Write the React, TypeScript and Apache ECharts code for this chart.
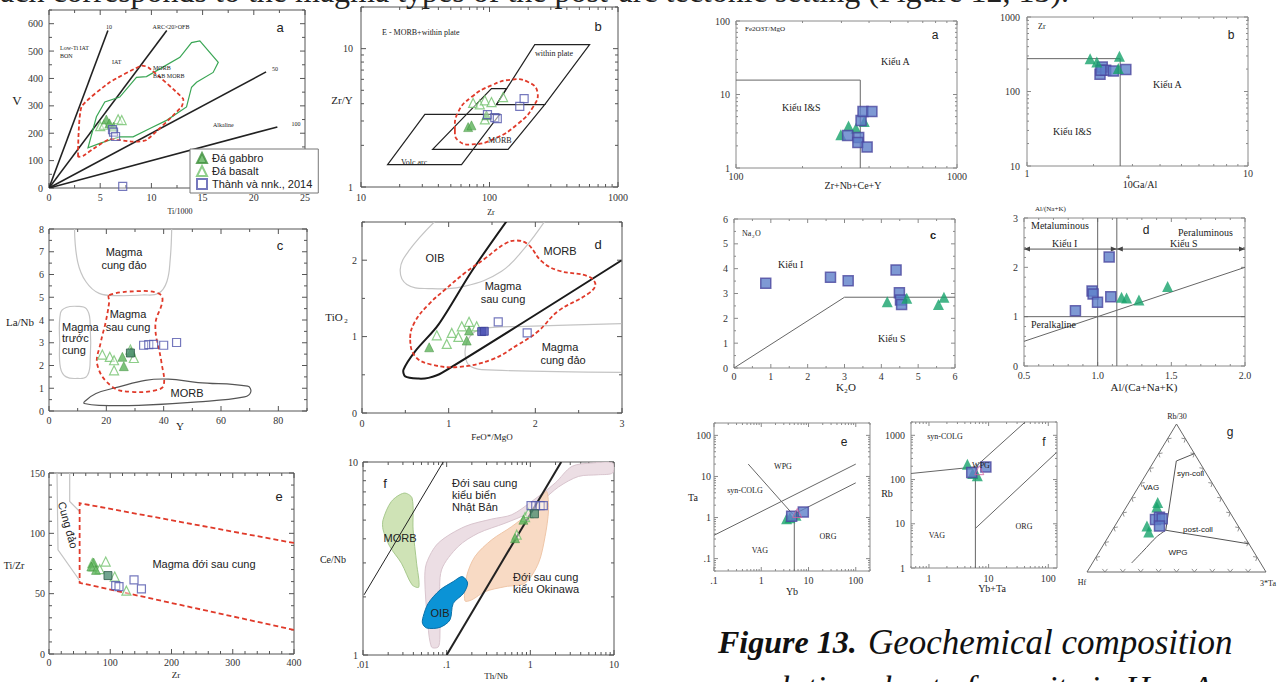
import React, { useEffect, useRef } from "react";
import * as echarts from "echarts";

const SERIF = "'Liberation Serif','Times New Roman',serif";
const SANS = "'Liberation Sans',Arial,Helvetica,sans-serif";

/* ================= DATA ================= */
// Left (a) V vs Ti/1000
const LA_GABBRO = [[5.6, 250], [5.9, 236], [6.3, 224]];
const LA_BASALT = [[5.0, 226], [5.35, 231], [6.75, 251], [7.1, 248]];
const LA_THANH = [[6.2, 213], [6.3, 204], [6.5, 188], [7.2, 6]];
const LA_RATIO_10 = [[0, 0], [5.75, 575]];
const LA_RATIO_20 = [[0, 0], [11.5, 575]];
const LA_RATIO_50 = [[0, 0], [21.2, 424]];
const LA_RATIO_100 = [[0, 0], [22.3, 223]];
const LA_FIELD_GREEN = [[3.81, 147], [4.63, 260], [5.45, 314], [6.91, 332], [8.54, 404], [9.52, 407], [10.82, 435], [12.78, 477], [13.92, 531], [14.73, 537], [16.53, 459], [16.03, 422], [14.41, 386], [13.92, 368], [13.43, 296], [11.48, 247], [9.85, 217], [8.21, 187], [6.91, 187], [4.96, 163]];
const LA_FIELD_RED = [[2.84, 115], [3.17, 296], [5.93, 386], [9.03, 447], [9.68, 441], [13.1, 326], [12.94, 296], [9.52, 175], [8.21, 169], [5.93, 178], [4.63, 151], [3.32, 117]];

// Left (b) Zr/Y vs Zr
const LB_GABBRO = [[68.2, 2.71], [72.4, 2.79], [94.7, 3.3]];
const LB_BASALT = [[74.6, 4.05], [84, 3.96], [92, 4.23], [103.6, 4.11], [127.6, 4.47], [92, 3.08]];
const LB_THANH = [[96.4, 3.34], [110, 3.17], [115, 3.12], [172, 3.83], [186, 4.35]];
const LB_VOLC_ARC = [[16.1, 1.45], [60.6, 1.45], [120, 3.35], [31.4, 3.35]];
const LB_MORB = [[36.1, 1.87], [139.5, 1.87], [269, 3.94], [113.3, 3.94], [135.5, 5.14], [103.6, 5.14]];
const LB_WITHIN_PLATE = [[113.3, 3.94], [225, 10.7], [601, 10.7], [269, 3.94]];
const LB_FIELD_RED = [[53.8, 2.57], [57, 3.48], [72.4, 4.47], [103.6, 5.43], [148, 5.97], [199.6, 5.74], [236, 4.86], [218, 3.78], [167, 2.87], [110, 2.24], [72.4, 2.03], [57, 2.17]];

// Left (c) La/Nb vs Y
const LC_GABBRO = [[25.6, 2.38], [26.1, 1.97], [28.6, 2.6]];
const LC_BASALT = [[18.6, 2.48], [21.2, 2.38], [22.7, 2.23], [22.7, 1.79], [29.6, 2.33], [28.4, 2.7]];
const LC_THANH = [[33.0, 2.89], [34.8, 2.92], [36.5, 2.93], [40.0, 2.89], [44.5, 3.01]];
const LC_THANH_DARK = [[28.4, 2.55]];
const LC_FIELD_ARC = [[8.9, 8], [10, 6.56], [12.9, 5.68], [17.5, 5.17], [24.4, 5.07], [32.5, 5.1], [38.2, 5.17], [41.1, 5.68], [42.3, 6.7], [42.8, 8]];
const LC_FIELD_FOREARC = [[4, 4.3], [6, 4.55], [10, 4.6], [13, 4.5], [14.3, 4.0], [14.3, 2.0], [13, 1.5], [10, 1.43], [6, 1.5], [4, 1.9], [3.7, 3.0]];
const LC_FIELD_RED = [[21.0, 5.09], [31.3, 5.27], [38.2, 5.17], [39.6, 4.87], [37.1, 3.77], [39.2, 2.16], [40.0, 1.13], [37.1, 0.91], [29.0, 0.84], [22.1, 1.06], [16.9, 2.01], [18.1, 3.04], [19.8, 3.92], [21.0, 4.8]];
const LC_FIELD_MORB = [[12.3, 0.4], [16.4, 0.77], [24.4, 1.06], [33.6, 1.35], [41.7, 1.4], [52.0, 1.25], [69.3, 1.09], [70.4, 0.84], [68.2, 0.62], [52.0, 0.4], [31.3, 0.25], [17.5, 0.25], [12.3, 0.33]];

// Left (d) TiO2 vs FeO*/MgO
const LD_GABBRO = [[0.775, 0.86], [1.208, 0.948], [1.235, 1.079]];
const LD_BASALT = [[0.863, 1.017], [0.978, 0.904], [1.036, 1.048], [1.112, 0.996], [1.151, 1.135], [1.235, 1.193], [1.323, 1.135]];
const LD_THANH = [[1.572, 1.193], [1.906, 1.048]];
const LD_THANH_FILLED = [[1.381, 1.066], [1.411, 1.07]];
const LD_BOUNDARY = [[1.668, 2.51], [1.266, 1.856], [0.882, 1.157], [0.613, 0.807], [0.479, 0.567], [0.498, 0.48], [0.651, 0.45], [0.767, 0.46], [0.921, 0.524], [2.992, 1.996]];
const LD_FIELD_OIB = [[0.843, 2.51], [0.537, 2.118], [0.441, 1.878], [0.518, 1.681], [0.767, 1.629], [1.189, 1.66], [1.611, 1.856], [1.879, 2.162], [2.109, 2.51]];
const LD_FIELD_ARC = [[2.992, 1.17], [1.879, 1.135], [1.381, 1.105], [1.246, 1.004], [1.189, 0.807], [1.227, 0.633], [1.381, 0.567], [2.992, 0.532]];
const LD_FIELD_RED = [[0.556, 0.983], [0.613, 1.2], [0.767, 1.419], [0.959, 1.616], [1.189, 1.835], [1.419, 2.022], [1.649, 2.215], [1.784, 2.258], [1.917, 2.206], [2.071, 1.987], [2.262, 1.865], [2.608, 1.79], [2.693, 1.681], [2.608, 1.56], [2.262, 1.332], [2.032, 1.07], [1.802, 0.895], [1.496, 0.699], [1.112, 0.603], [0.806, 0.633], [0.613, 0.742]];

// Left (e) Ti/Zr vs Zr
const LE_GABBRO = [[72.9, 75.8], [69.1, 72.5], [76.7, 69.7]];
const LE_BASALT = [[70.8, 75.3], [72.9, 72.5], [82.8, 70.3], [92.6, 76.6], [107.3, 64.2], [126.4, 52.5]];
const LE_THANH = [[108.9, 56.7], [114.3, 55.9], [138.8, 61.4], [150.9, 54]];
const LE_THANH_DARK = [[96.3, 65]];
const LE_FIELD_RED = [[400, 92], [50, 125], [50, 59], [400, 20]];
const LE_ARC_1 = [[13.1, 150], [14.7, 86.3], [50, 60.9]];
const LE_ARC_2 = [[33.8, 150], [33.8, 126.4], [50, 118.1]];

// Left (f) Ce/Nb vs Th/Nb
const LF_GABBRO = [[0.657, 4.03], [0.826, 5.02]];
const LF_BASALT = [[0.688, 4.2], [0.865, 5.18], [0.948, 5.44]];
const LF_THANH = [[1.02, 5.94], [1.16, 5.94], [1.31, 5.94], [1.43, 5.94]];
const LF_THANH_DARK = [[1.12, 5.39]];
const LF_LINE_A = [[0.0103, 2.05], [0.0909, 10]];
const LF_LINE_B = [[0.1, 1], [2.34, 10]];
const LF_FIELD_MORB = [[0.01738, 5.02], [0.02188, 6.25], [0.03098, 6.9], [0.0386, 6.5], [0.0397, 4.45], [0.0437, 2.99], [0.0465, 2.25], [0.0386, 2.31], [0.0288, 2.99], [0.0209, 3.65], [0.0174, 4.45]];
const LF_FIELD_OIB = [[0.0524, 1.58], [0.0601, 1.85], [0.083, 2.17], [0.1197, 2.4], [0.1535, 2.55], [0.178, 2.36], [0.1596, 2.09], [0.1197, 1.85], [0.1094, 1.52], [0.083, 1.39], [0.0576, 1.38], [0.0514, 1.46]];
const LF_FIELD_JAPAN = [[0.0659, 1.1], [0.059, 1.52], [0.0548, 2.45], [0.0574, 2.99], [0.0793, 3.8], [0.165, 4.63], [0.345, 5.06], [0.6, 5.33], [1.04, 6.25], [1.98, 7.78], [3.14, 9.49], [5.45, 9.88], [9.62, 9.88], [9.62, 8.77], [6.54, 8.59], [3.77, 8.42], [2.17, 7.42], [1.37, 6.25], [0.948, 5.44], [0.499, 4.82], [0.239, 4.28], [0.1375, 3.65], [0.0868, 2.76], [0.083, 1.85], [0.083, 1.24], [0.0793, 1.1]];
const LF_FIELD_OKINAWA = [[0.165, 1.91], [0.173, 2.55], [0.218, 3.24], [0.345, 3.95], [0.6, 4.63], [0.948, 5.44], [1.37, 6.63], [1.57, 7.04], [1.65, 5.65], [1.5, 4.11], [1.25, 2.99], [0.865, 2.36], [0.499, 2.26], [0.287, 2.13], [0.199, 1.93]];

// Right (a) Fe2O3T/MgO vs Zr+Nb+Ce+Y
const RA_TRI = [[298, 2.83], [323, 3.74], [349, 3.48], [380.6, 4.28]];
const RA_SQ = [[320, 2.77], [359, 2.6], [356, 2.22], [392, 1.93], [368, 4.42], [375.6, 5.85], [412, 5.85]];
const RA_BOUNDARY = [[100, 15.7], [365, 15.7], [365, 1]];
// Right (b) Zr vs 10^4Ga/Al
const RB_TRI = [[1.93, 276], [2.07, 249], [2.62, 297], [2.59, 203]];
const RB_SQ = [[2.14, 170], [2.19, 213], [2.27, 193], [2.46, 188], [2.8, 197], [2.16, 193]];
const RB_BOUNDARY = [[1, 276], [2.64, 276], [2.64, 10]];
// Right (c) Na2O vs K2O
const RC_SQ = [[0.862, 3.41], [2.62, 3.65], [3.1, 3.51], [4.4, 3.95], [4.49, 3.03], [4.52, 2.74], [4.55, 2.56]];
const RC_TRI = [[4.16, 2.67], [4.69, 2.81], [5.55, 2.56], [5.7, 2.85]];
const RC_BOUNDARY = [[0, 0], [3, 2.85], [6, 2.85]];
// Right (d) A/NK vs A/CNK
const RD_SQ = [[0.849, 1.12], [0.962, 1.52], [0.969, 1.46], [0.999, 1.29], [1.078, 2.21], [1.089, 1.405]];
const RD_TRI = [[1.162, 1.393], [1.196, 1.379], [1.28, 1.338], [1.475, 1.609]];
const RD_V1 = [[1.0, 0], [1.0, 3]];
const RD_V2 = [[1.13, 0], [1.13, 3]];
const RD_H1 = [[0.5, 1], [2.0, 1]];
const RD_DIAG = [[0.5, 0.5], [2.0, 2.0]];
const RD_ARROW_I = [[0.5, 2.37], [1.13, 2.37]];
const RD_ARROW_S = [[1.13, 2.37], [2.0, 2.37]];
// Right (e) Ta vs Yb
const RE_TRI = [[3.44, 0.94], [4.05, 0.99], [5.43, 1.13]];
const RE_SQ = [[4.4, 1.07], [7.76, 1.36]];
const RE_PINK = [[5.78, 1.29]];
const RE_L1 = [[0.1, 0.37], [100, 20]];
const RE_L2 = [[5, 1.22], [100, 7]];
const RE_L3 = [[0.53, 20], [4.6, 1.22]];
const RE_V = [[5, 1.22], [5, 0.05]];
// Right (f) Rb vs Yb+Ta
const RF_TRI = [[4.41, 222], [5.41, 137], [6.46, 122]];
const RF_SQ = [[5.21, 144], [8.99, 193]];
const RF_PINK = [[6.97, 163]];
const RF_L1 = [[0.5, 137], [6, 193]];
const RF_V = [[6, 193], [6, 1]];
const RF_L2 = [[6, 193], [41, 2000]];
const RF_L3 = [[6, 7.85], [136, 403]];
// Right (g) ternary Hf - Rb/30 - 3*Ta (percent)
const RG_TRI = [[37, 47, 16], [39, 44, 17], [51, 31, 18], [52, 27, 21]];
const RG_SQ = [[44, 35.5, 20.5], [41, 37, 22], [40, 36, 24], [44, 31, 25]];
const RG_BOUND_1 = [[0, 80, 20], [12.6, 75, 12.4], [41.9, 28.2, 29.9], [0, 19, 81]];
const RG_BOUND_2 = [[41.9, 28.2, 29.9], [49.3, 23.7, 27], [61.5, 14.2, 24.3], [72, 6.1, 21.9]];
const RG_CORNERS = [[100, 0, 0], [0, 0, 100], [0, 100, 0]];

const LEGEND_NAMES = ["Đá gabbro", "Đá basalt", "Thành và nnk., 2014"];

/* ================= LAYOUT ================= */
type Ax = { log: boolean; min: number; max: number; step?: number; minor?: number; margin: number; fmt?: (v: number) => string };
const lin = (min: number, max: number, step: number, minor: number, margin: number, fmt?: (v: number) => string): Ax => ({ log: false, min, max, step, minor, margin, fmt });
const lg = (min: number, max: number, margin: number): Ax => ({ log: true, min, max, margin });

const PANELS: any[] = [
  { l: 49, t: 10, w: 256, h: 178, x: lin(0, 25, 5, 2.5, 4), y: lin(0, 650, 100, 50, 6), dark: true },
  { l: 361, t: 7, w: 257, h: 180, x: lg(10, 1000, 5), y: lg(1, 20, 8), dark: true },
  { l: 49, t: 229, w: 258, h: 182, x: lin(0, 90, 20, 10, 4), y: lin(0, 8, 1, 0.5, 5), dark: true },
  { l: 362, t: 222, w: 260, h: 191, x: lin(0, 3, 1, 0.5, 5), y: lin(0, 2.5, 1, 0.5, 5), dark: true },
  { l: 49, t: 473, w: 245, h: 181, x: lin(0, 400, 100, 20, 3), y: lin(0, 150, 50, 10, 4), dark: true },
  { l: 363, t: 462, w: 251, h: 193, x: lg(0.01, 10, 4), y: lg(1, 10, 5), dark: true },
  { l: 736, t: 21, w: 221, h: 147, x: lg(100, 1000, 3), y: lg(1, 100, 6) },
  { l: 1027, t: 17, w: 221, h: 149, x: lg(1, 10, 2), y: lg(10, 1000, 7) },
  { l: 734, t: 219, w: 221, h: 149, x: lin(0, 6, 1, 0.5, 3), y: lin(0, 6, 1, 0.5, 6) },
  { l: 1024, t: 218, w: 221, h: 148, x: lin(0.5, 2, 0.5, 0.1, 4, (v) => v.toFixed(1)), y: lin(0, 3, 1, 0.2, 6) },
  { l: 714, t: 423, w: 156, h: 148, x: lg(0.1, 200, 4), y: lg(0.05, 200, 3) },
  { l: 911, t: 422, w: 146, h: 146, x: lg(0.5, 140, 5), y: lg(1, 2000, 6) },
];
const TERN = 12;

const isMult = (v: number, s: number) => Math.abs(v / s - Math.round(v / s)) < 1e-6;
const refOf = (a: Ax) => (a.log ? Math.sqrt(a.min * a.max) : (a.min + a.max) / 2);

function tickList(a: Ax, majLen: number, minLen: number) {
  const out: number[][] = [];
  if (a.log) {
    const e0 = Math.floor(Math.log10(a.min)), e1 = Math.ceil(Math.log10(a.max));
    for (let e = e0; e <= e1; e++) {
      for (let k = 1; k <= 9; k++) {
        const v = k * Math.pow(10, e);
        if (v < a.min * (1 - 1e-9) || v > a.max * (1 + 1e-9)) continue;
        out.push([v, k === 1 ? majLen : minLen]);
      }
    }
  } else {
    const s = a.minor as number;
    const n0 = Math.ceil(a.min / s - 1e-9), n1 = Math.floor(a.max / s + 1e-9);
    for (let n = n0; n <= n1; n++) {
      const v = n * s;
      out.push([v, isMult(v, a.step as number) ? majLen : minLen]);
    }
  }
  return out;
}

function labelFmt(a: Ax) {
  if (a.log) {
    return (v: number) => {
      const l = Math.log10(v);
      const e = Math.round(l);
      if (Math.abs(l - e) > 1e-6) return "";
      return e >= 0 ? String(Math.round(Math.pow(10, e))) : "." + "0".repeat(-e - 1) + "1";
    };
  }
  return (v: number) => (isMult(v, a.step as number) ? (a.fmt ? a.fmt(v) : String(Math.round(v * 1e6) / 1e6)) : "");
}

function axisOpt(i: number, a: Ax) {
  const o: any = {
    gridIndex: i,
    type: a.log ? "log" : "value",
    min: a.min,
    max: a.max,
    axisLine: { show: false },
    axisTick: { show: false },
    minorTick: { show: false },
    splitLine: { show: false },
    axisLabel: { formatter: labelFmt(a), fontFamily: SERIF, fontSize: 10, color: "#333", margin: a.margin },
  };
  if (a.log) o.logBase = 10;
  else o.interval = a.step;
  return o;
}

function tickSeries(i: number) {
  const p = PANELS[i];
  const majLen = p.dark ? 5 : 4, minLen = p.dark ? 3 : 2;
  const xt = tickList(p.x, majLen, minLen), yt = tickList(p.y, majLen, minLen);
  const xr = refOf(p.x), yr = refOf(p.y);
  const color = p.dark ? "#555" : "#8a8a8a";
  return {
    type: "custom", xAxisIndex: i, yAxisIndex: i, silent: true, clip: false, z: 1,
    data: [[xr, yr]],
    renderItem: (params: any, api: any) => {
      const cs = params.coordSys;
      const x0 = cs.x, y0 = cs.y, x1 = cs.x + cs.width, y1 = cs.y + cs.height;
      const ch: any[] = [];
      const st = { stroke: color, lineWidth: 1 };
      const add = (a: number, b: number, c: number, d: number) => ch.push({ type: "line", shape: { x1: a, y1: b, x2: c, y2: d }, style: st });
      xt.forEach(([v, len]) => { const px = api.coord([v, yr])[0]; add(px, y1, px, y1 - len); add(px, y0, px, y0 + len); });
      yt.forEach(([v, len]) => { const py = api.coord([xr, v])[1]; add(x0, py, x0 + len, py); add(x1, py, x1 - len, py); });
      return { type: "group", children: ch };
    },
  };
}

function refPt(i: number) {
  if (i === TERN) return [0.5, 0.5];
  const p = PANELS[i];
  return [refOf(p.x), refOf(p.y)];
}

function shapeS(i: number, pts: number[][], o: any) {
  return {
    type: "custom", xAxisIndex: i, yAxisIndex: i, silent: true, clip: o.clip !== false, z: o.z ?? 2,
    data: [refPt(i)],
    renderItem: (params: any, api: any) => {
      const pp = pts.map((q) => api.coord(q));
      const style: any = { fill: o.fill || "none", stroke: o.stroke || "none", lineWidth: o.w ?? 1 };
      if (o.dash) style.lineDash = o.dash;
      return { type: o.closed ? "polygon" : "polyline", shape: { points: pp, smooth: o.smooth || 0 }, style };
    },
  };
}

const ST: any = {
  lTriF: { symbol: "triangle", symbolSize: 9, itemStyle: { color: "#5db35a", borderColor: "#3f8f3c", borderWidth: 0.6 } },
  lTriO: { symbol: "triangle", symbolSize: 9, itemStyle: { color: "rgba(255,255,255,0.6)", borderColor: "#72c26d", borderWidth: 1.2 } },
  lSqO: { symbol: "rect", symbolSize: 8, itemStyle: { color: "rgba(255,255,255,0.4)", borderColor: "#5256ad", borderWidth: 1.2 } },
  lSqG: { symbol: "rect", symbolSize: 8, itemStyle: { color: "#4f8f74", borderColor: "#2f5a4a", borderWidth: 1 } },
  lSqB: { symbol: "rect", symbolSize: 8, itemStyle: { color: "#4c53b5", borderColor: "#3a3f95", borderWidth: 1 } },
  rTri: { symbol: "triangle", symbolSize: 11, itemStyle: { color: "#17a26b" } },
  rSq: { symbol: "rect", symbolSize: 10, itemStyle: { color: "#5e80c9", borderColor: "#4b479f", borderWidth: 1.5 } },
  rPink: { symbol: "triangle", symbolSize: 9, itemStyle: { color: "rgba(255,255,255,0)", borderColor: "#d4609e", borderWidth: 1 } },
};

function dots(i: number, name: string, data: number[][], st: any) {
  return { type: "scatter", name, xAxisIndex: i, yAxisIndex: i, data, z: 5, silent: true, ...st };
}

const tern = (q: number[]) => { const s = q[0] + q[1] + q[2]; return [(q[2] + q[1] / 2) / s, q[1] / s]; };

function T(x: number, y: number, text: string, size: number, o: any = {}) {
  const a = o.a || "center";
  return {
    type: "text", x, y, rotation: o.rot || 0, silent: true, z: 100,
    style: {
      text, fontSize: size, fontFamily: o.f || SERIF, fontWeight: o.bold ? "bold" : "normal",
      fontStyle: o.italic ? "italic" : "normal", fill: o.c || "#222",
      textAlign: a, align: a, textVerticalAlign: "middle", verticalAlign: "middle",
    },
  };
}

function buildOption() {
  const grid: any[] = [], xAxis: any[] = [], yAxis: any[] = [], series: any[] = [];
  PANELS.forEach((p, i) => {
    grid.push({ left: p.l, top: p.t, width: p.w, height: p.h, show: true, borderColor: p.dark ? "#555" : "#8a8a8a", borderWidth: 1, backgroundColor: "rgba(0,0,0,0)" });
    xAxis.push(axisOpt(i, p.x));
    yAxis.push(axisOpt(i, p.y));
    series.push(tickSeries(i));
  });
  grid.push({ left: 1087, top: 424, width: 179, height: 148, show: false });
  xAxis.push({ gridIndex: TERN, type: "value", min: 0, max: 1, show: false });
  yAxis.push({ gridIndex: TERN, type: "value", min: 0, max: 1, show: false });

  const BLK = "#222", GRY = "#555", RED = "#e03a2a", LGR = "#c4c4c4";
  // ---- left a
  [LA_RATIO_10, LA_RATIO_20, LA_RATIO_50, LA_RATIO_100].forEach((l) => series.push(shapeS(0, l, { stroke: BLK, w: 1.6 })));
  series.push(shapeS(0, LA_FIELD_GREEN, { closed: true, stroke: "#3aa655", w: 1.2 }));
  series.push(shapeS(0, LA_FIELD_RED, { closed: true, stroke: RED, w: 1.8, dash: [4, 2.5], smooth: 0.15 }));
  series.push(dots(0, LEGEND_NAMES[1], LA_BASALT, ST.lTriO));
  series.push(dots(0, LEGEND_NAMES[0], LA_GABBRO, ST.lTriF));
  series.push(dots(0, LEGEND_NAMES[2], LA_THANH, ST.lSqO));
  // ---- left b
  series.push(shapeS(1, LB_VOLC_ARC, { closed: true, stroke: BLK, w: 1.2 }));
  series.push(shapeS(1, LB_MORB, { closed: true, stroke: BLK, w: 1.2 }));
  series.push(shapeS(1, LB_WITHIN_PLATE, { stroke: BLK, w: 1.2 }));
  series.push(shapeS(1, LB_FIELD_RED, { closed: true, stroke: RED, w: 1.8, dash: [4, 2.5], smooth: 0.5 }));
  series.push(dots(1, "b-basalt", LB_BASALT, ST.lTriO));
  series.push(dots(1, "b-gabbro", LB_GABBRO, ST.lTriF));
  series.push(dots(1, "b-thanh", LB_THANH, ST.lSqO));
  // ---- left c
  series.push(shapeS(2, LC_FIELD_ARC, { stroke: LGR, w: 1.2, smooth: 0.4 }));
  series.push(shapeS(2, LC_FIELD_FOREARC, { closed: true, stroke: LGR, w: 1.2, smooth: 0.4 }));
  series.push(shapeS(2, LC_FIELD_MORB, { closed: true, stroke: GRY, w: 1.2, smooth: 0.4 }));
  series.push(shapeS(2, LC_FIELD_RED, { closed: true, stroke: RED, w: 1.8, dash: [4, 3], smooth: 0.4 }));
  series.push(dots(2, "c-basalt", LC_BASALT, ST.lTriO));
  series.push(dots(2, "c-gabbro", LC_GABBRO, ST.lTriF));
  series.push(dots(2, "c-thanh", LC_THANH, ST.lSqO));
  series.push(dots(2, "c-thanh2", LC_THANH_DARK, ST.lSqG));
  // ---- left d
  series.push(shapeS(3, LD_FIELD_OIB, { stroke: LGR, w: 1.2, smooth: 0.4 }));
  series.push(shapeS(3, LD_FIELD_ARC, { stroke: LGR, w: 1.2, smooth: 0.3 }));
  series.push(shapeS(3, LD_BOUNDARY, { stroke: "#1a1a1a", w: 2, smooth: 0.3 }));
  series.push(shapeS(3, LD_FIELD_RED, { closed: true, stroke: RED, w: 1.8, dash: [4, 2.5], smooth: 0.4 }));
  series.push(dots(3, "d-basalt", LD_BASALT, ST.lTriO));
  series.push(dots(3, "d-gabbro", LD_GABBRO, ST.lTriF));
  series.push(dots(3, "d-thanh", LD_THANH, ST.lSqO));
  series.push(dots(3, "d-thanh2", LD_THANH_FILLED, ST.lSqB));
  // ---- left e
  series.push(shapeS(4, LE_ARC_1, { stroke: LGR, w: 1.2 }));
  series.push(shapeS(4, LE_ARC_2, { stroke: LGR, w: 1.2 }));
  series.push(shapeS(4, LE_FIELD_RED, { stroke: RED, w: 1.8, dash: [5, 3] }));
  series.push(dots(4, "e-basalt", LE_BASALT, ST.lTriO));
  series.push(dots(4, "e-gabbro", LE_GABBRO, ST.lTriF));
  series.push(dots(4, "e-thanh", LE_THANH, ST.lSqO));
  series.push(dots(4, "e-thanh2", LE_THANH_DARK, ST.lSqG));
  // ---- left f
  series.push(shapeS(5, LF_FIELD_JAPAN, { closed: true, fill: "#ecdee4", stroke: "#d9c5ce", w: 1, smooth: 0.3 }));
  series.push(shapeS(5, LF_FIELD_OKINAWA, { closed: true, fill: "rgba(247,214,190,0.9)", stroke: "#efc6a8", w: 1, smooth: 0.3 }));
  series.push(shapeS(5, LF_FIELD_MORB, { closed: true, fill: "#cfe3b6", stroke: "#a8c98e", w: 1, smooth: 0.3 }));
  series.push(shapeS(5, LF_FIELD_OIB, { closed: true, fill: "#0b93d6", stroke: "#0a70a8", w: 1, smooth: 0.3 }));
  series.push(shapeS(5, LF_LINE_A, { stroke: BLK, w: 1 }));
  series.push(shapeS(5, LF_LINE_B, { stroke: BLK, w: 2 }));
  series.push(dots(5, "f-basalt", LF_BASALT, ST.lTriO));
  series.push(dots(5, "f-gabbro", LF_GABBRO, ST.lTriF));
  series.push(dots(5, "f-thanh", LF_THANH, ST.lSqO));
  series.push(dots(5, "f-thanh2", LF_THANH_DARK, ST.lSqG));
  // ---- right a
  series.push(shapeS(6, RA_BOUNDARY, { stroke: "#666", w: 1 }));
  series.push(dots(6, "ra-tri", RA_TRI, ST.rTri));
  series.push(dots(6, "ra-sq", RA_SQ, ST.rSq));
  // ---- right b
  series.push(shapeS(7, RB_BOUNDARY, { stroke: "#666", w: 1 }));
  series.push(dots(7, "rb-sq", RB_SQ, ST.rSq));
  series.push(dots(7, "rb-tri", RB_TRI, ST.rTri));
  // ---- right c
  series.push(shapeS(8, RC_BOUNDARY, { stroke: "#666", w: 1 }));
  series.push(dots(8, "rc-sq", RC_SQ, ST.rSq));
  series.push(dots(8, "rc-tri", RC_TRI, ST.rTri));
  // ---- right d
  [RD_V1, RD_V2, RD_H1, RD_DIAG].forEach((l) => series.push(shapeS(9, l, { stroke: "#666", w: 1 })));
  series.push({
    type: "custom", xAxisIndex: 9, yAxisIndex: 9, silent: true, clip: false, z: 3, data: [refPt(9)],
    renderItem: (params: any, api: any) => {
      const ch: any[] = [];
      const st = { stroke: "#555", lineWidth: 1 };
      [RD_ARROW_I, RD_ARROW_S].forEach((seg) => {
        const a = api.coord(seg[0]), b = api.coord(seg[1]);
        ch.push({ type: "line", shape: { x1: a[0], y1: a[1], x2: b[0], y2: b[1] }, style: st });
        ch.push({ type: "polygon", shape: { points: [[a[0], a[1]], [a[0] + 6, a[1] - 2.5], [a[0] + 6, a[1] + 2.5]] }, style: { fill: "#444" } });
        ch.push({ type: "polygon", shape: { points: [[b[0], b[1]], [b[0] - 6, b[1] - 2.5], [b[0] - 6, b[1] + 2.5]] }, style: { fill: "#444" } });
      });
      return { type: "group", children: ch };
    },
  });
  series.push(dots(9, "rd-sq", RD_SQ, ST.rSq));
  series.push(dots(9, "rd-tri", RD_TRI, ST.rTri));
  // ---- right e
  [RE_L1, RE_L2, RE_L3, RE_V].forEach((l) => series.push(shapeS(10, l, { stroke: "#666", w: 1 })));
  series.push(dots(10, "re-tri", RE_TRI, ST.rTri));
  series.push(dots(10, "re-sq", RE_SQ, ST.rSq));
  series.push(dots(10, "re-pink", RE_PINK, ST.rPink));
  // ---- right f
  [RF_L1, RF_V, RF_L2, RF_L3].forEach((l) => series.push(shapeS(11, l, { stroke: "#666", w: 1 })));
  series.push(dots(11, "rf-tri", RF_TRI, ST.rTri));
  series.push(dots(11, "rf-sq", RF_SQ, ST.rSq));
  series.push(dots(11, "rf-pink", RF_PINK, ST.rPink));
  // ---- right g (ternary)
  series.push(shapeS(TERN, RG_CORNERS.map(tern), { closed: true, stroke: "#666", w: 1, clip: false }));
  series.push({
    type: "custom", xAxisIndex: TERN, yAxisIndex: TERN, silent: true, clip: false, z: 2, data: [[0.5, 0.5]],
    renderItem: (params: any, api: any) => {
      const V = RG_CORNERS.map((c) => api.coord(tern(c)));
      const cen = [(V[0][0] + V[1][0] + V[2][0]) / 3, (V[0][1] + V[1][1] + V[2][1]) / 3];
      const ch: any[] = [];
      for (let e = 0; e < 3; e++) {
        const A = V[e], B = V[(e + 1) % 3];
        for (let k = 1; k <= 9; k++) {
          const f = k / 10;
          const P = [A[0] + (B[0] - A[0]) * f, A[1] + (B[1] - A[1]) * f];
          const nx = cen[0] - P[0], ny = cen[1] - P[1];
          const ex = B[0] - A[0], ey = B[1] - A[1];
          const el = Math.hypot(ex, ey);
          let px = -ey / el, py = ex / el;
          if (px * nx + py * ny < 0) { px = -px; py = -py; }
          const tx = ex / el, ty = ey / el;
          [1, -1].forEach((sgn) => {
            const dx = px * 0.77 + sgn * tx * 0.64, dy = py * 0.77 + sgn * ty * 0.64;
            ch.push({ type: "line", shape: { x1: P[0], y1: P[1], x2: P[0] + dx * 4, y2: P[1] + dy * 4 }, style: { stroke: "#777", lineWidth: 0.8 } });
          });
        }
      }
      return { type: "group", children: ch };
    },
  });
  series.push(shapeS(TERN, RG_BOUND_1.map(tern), { stroke: "#555", w: 1, clip: false }));
  series.push(shapeS(TERN, RG_BOUND_2.map(tern), { stroke: "#555", w: 1, smooth: 0.3, clip: false }));
  series.push(dots(TERN, "rg-tri", RG_TRI.map(tern), ST.rTri));
  series.push(dots(TERN, "rg-sq", RG_SQ.map(tern), ST.rSq));

  const S = { f: SANS };
  const L = { a: "left" };
  const graphic: any[] = [
    // top line of body text (cut off) and caption
    T(0, -9, "ach corresponds to the magma types of the post-arc tectonic setting (Figure 12, 13).", 32, { a: "left" }),
    T(718, 642, "Figure 13.", 32, { a: "left", bold: true, italic: true, c: "#111" }),
    T(868, 642, "Geochemical composition", 35, { a: "left", italic: true, c: "#111" }),
    T(708, 687, "correlation chart of granite in Hoa An", 34, { a: "left", italic: true, c: "#111" }),
    // left a
    T(280, 27, "a", 13, S), T(17, 100, "V", 13), T(180, 211, "Ti/1000", 8),
    T(109, 27, "10", 6), T(171, 27, "ARC<20>OFB", 6), T(275, 69, "50", 6), T(296, 124, "100", 6),
    T(60, 48, "Low-Ti IAT", 6, L), T(60, 56, "BON", 6, L), T(112, 62, "IAT", 6, L),
    T(153, 68, "MORB", 6, L), T(153, 76, "BAB MORB", 6, L), T(213, 125, "Alkaline", 6, L),
    // left b
    T(598, 26, "b", 13, S), T(382, 32, "E - MORB+within plate", 8, L), T(535, 53, "within plate", 8, L),
    T(488, 140, "MORB", 8, L), T(401, 162, "Volc arc", 8, L), T(342, 100, "Zr/Y", 11), T(491, 212, "Zr", 8),
    // left c
    T(280, 245, "c", 13, S), T(124, 252, "Magma", 11, S), T(124, 265, "cung đảo", 11, S),
    T(128, 314, "Magma", 11, S), T(128, 327, "sau cung", 11, S),
    T(62, 327, "Magma", 11, { f: SANS, a: "left" }), T(62, 338, "trước", 11, { f: SANS, a: "left" }), T(62, 350, "cung", 11, { f: SANS, a: "left" }),
    T(187, 393, "MORB", 11, S), T(20, 322, "La/Nb", 11), T(180, 426, "Y", 11),
    // left d
    T(598, 244, "d", 13, S), T(435, 258, "OIB", 11, S), T(560, 251, "MORB", 11, S),
    T(503, 286, "Magma", 11, S), T(503, 299, "sau cung", 11, S),
    T(560, 347, "Magma", 11, S), T(563, 360, "cung đảo", 11, S),
    T(334, 317, "TiO", 11), T(346, 321, "2", 7), T(492, 437, "FeO*/MgO", 9),
    // left e
    T(279, 496, "e", 13, S), T(68, 525, "Cung đảo", 11, { f: SANS, rot: -1.3 }),
    T(204, 564, "Magma đới sau cung", 11, S), T(14, 565, "Ti/Zr", 10), T(176, 675, "Zr", 9),
    // left f
    T(385, 483, "f", 13, S), T(452, 483, "Đới sau cung", 11, { f: SANS, a: "left" }), T(452, 495, "kiểu biển", 11, { f: SANS, a: "left" }),
    T(452, 507, "Nhật Bản", 11, { f: SANS, a: "left" }), T(400, 538, "MORB", 11, S), T(440, 613, "OIB", 11, S),
    T(513, 577, "Đới sau cung", 11, { f: SANS, a: "left" }), T(513, 589, "kiểu Okinawa", 11, { f: SANS, a: "left" }),
    T(333, 559, "Ce/Nb", 10), T(496, 676, "Th/Nb", 9),
    // right a
    T(745, 29, "Fe2O3T/MgO", 7, L), T(935, 35, "a", 12, S), T(881, 61, "Kiểu A", 10, L), T(782, 107, "Kiểu I&S", 10, L),
    T(853, 185, "Zr+Nb+Ce+Y", 10),
    // right b
    T(1038, 26, "Zr", 8, L), T(1231, 35, "b", 12, S), T(1153, 84, "Kiểu A", 10, L), T(1053, 131, "Kiểu I&S", 10, L),
    T(1140, 184, "10Ga/Al", 10), T(1128, 177, "4", 7),
    // right c
    T(742, 233, "Na", 8, L), T(752, 236, "2", 5, L), T(755, 233, "O", 8, L), T(933, 235, "c", 11, { f: SANS, bold: true }),
    T(778, 264, "Kiểu I", 10, L), T(878, 338, "Kiểu S", 10, L),
    T(840, 387, "K", 11), T(846, 391, "2", 7), T(852, 387, "O", 11),
    // right d
    T(1035, 209, "Al/(Na+K)", 7, L), T(1031, 225, "Metaluminous", 10, L), T(1146, 230, "d", 12, S),
    T(1178, 232, "Peraluminous", 10, L), T(1052, 243, "Kiểu I", 10, L), T(1170, 243, "Kiểu S", 10, L),
    T(1031, 324, "Peralkaline", 10, L), T(1144, 387, "Al/(Ca+Na+K)", 11),
    // right e
    T(844, 442, "e", 12, S), T(783, 466, "WPG", 8), T(745, 490, "syn-COLG", 8), T(828, 536, "ORG", 8), T(760, 550, "VAG", 8),
    T(693, 497, "Ta", 10), T(792, 591, "Yb", 10),
    // right f
    T(1044, 442, "f", 12, S), T(945, 436, "syn-COLG", 8), T(981, 465, "WPG", 8), T(937, 535, "VAG", 8), T(1024, 526, "ORG", 8),
    T(887, 493, "Rb", 10), T(992, 588, "Yb+Ta", 10),
    // right g
    T(1177, 416, "Rb/30", 8), T(1230, 432, "g", 12, S), T(1177, 473, "syn-coll", 8, { f: SANS, a: "left" }),
    T(1151, 487, "VAG", 8, S), T(1198, 529, "post-coll", 8, S), T(1178, 552, "WPG", 8, S),
    T(1082, 582, "Hf", 8), T(1268, 583, "3*Ta", 8),
  ];

  return {
    animation: false,
    backgroundColor: "#fff",
    grid, xAxis, yAxis, series, graphic,
    legend: {
      data: LEGEND_NAMES, orient: "vertical", left: 190, top: 149, itemGap: 1, itemWidth: 10, itemHeight: 10,
      padding: [3, 6, 3, 6], borderColor: "#777", borderWidth: 1, backgroundColor: "#fff", selectedMode: false,
      textStyle: { fontFamily: SANS, fontSize: 11, color: "#222" },
    },
  };
}

export default function App() {
  const ref = useRef<HTMLDivElement>(null);
  useEffect(() => {
    document.body.style.margin = "0";
    const chart = echarts.init(ref.current as HTMLDivElement, null, { renderer: "svg" });
    chart.setOption(buildOption() as any);
    return () => chart.dispose();
  }, []);
  return <div ref={ref} style={{ position: "fixed", left: 0, top: 0, width: 1288, height: 682, background: "#fff" }} />;
}
